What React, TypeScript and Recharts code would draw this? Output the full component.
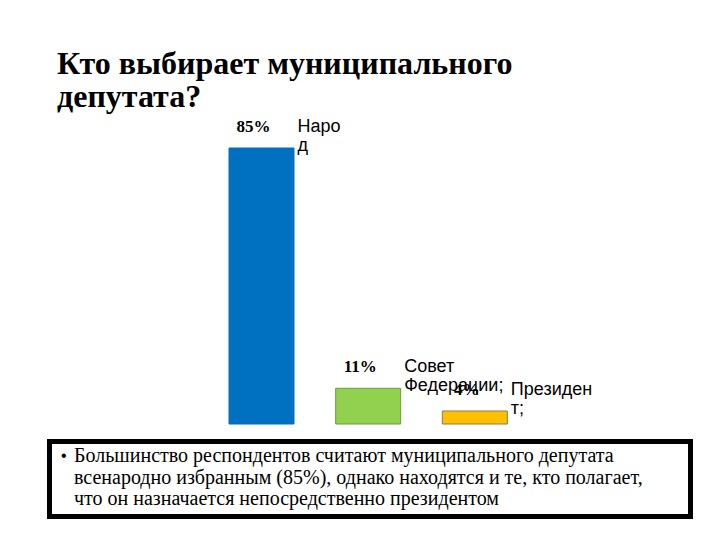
import React from "react";
import { BarChart, Bar, XAxis, YAxis, LabelList, Cell } from "recharts";

const categories = ["Народ", "Совет Федерации;", "Президент;"];
const values = [85, 11, 4];
const labelLines = [["Наро", "д"], ["Совет", "Федерации;"], ["Президен", "т;"]];
const fills = ["#0070C0", "#92D050", "#FFC000"];
const strokes = ["#0070C0", "#6E9C3C", "#8C7A50"];
const titleLines = ["Кто выбирает муниципального", "депутата?"];
const noteLines = [
  "Большинство респондентов считают муниципального депутата",
  "всенародно избранным (85%), однако находятся и те, кто полагает,",
  "что он назначается непосредственно президентом",
];

const SERIF = "Liberation Serif";
const SANS = "Liberation Sans";

const data = categories.map((c, i) => ({ name: c, value: values[i] }));

const renderLabel = (props: any) => {
  const { x, y, width, value, index } = props;
  const cx = x + width / 2;
  const lines = labelLines[index];
  return (
    <g>
      <text x={cx - 8} y={y - 16} textAnchor="middle" fontFamily={SERIF} fontWeight="bold" fontSize={17} fill="#000">
        {value}%
      </text>
      {lines.map((l: string, k: number) => (
        <text key={k} x={cx + 36} y={y - 16 + k * 19} fontFamily={SANS} fontSize={18} fill="#000">
          {l}
        </text>
      ))}
    </g>
  );
};

export default function App() {
  return (
    <div style={{ position: "absolute", left: 0, top: 0, width: 720, height: 540, background: "#fff", overflow: "hidden" }}>
      <div style={{ position: "absolute", left: 57, top: 47, fontFamily: SERIF, fontWeight: "bold", fontSize: 32, lineHeight: "33px", color: "#000", whiteSpace: "nowrap" }}>
        {titleLines.map((t, i) => (
          <div key={i}>{t}</div>
        ))}
      </div>
      <div style={{ position: "absolute", left: 0, top: 0 }}>
        <BarChart width={720} height={540} data={data} margin={{ top: 148, bottom: 116, left: 208, right: 192 }}>
          <XAxis dataKey="name" hide />
          <YAxis hide domain={[0, 85]} />
          <Bar dataKey="value" barSize={65} isAnimationActive={false}>
            {data.map((d, i) => (
              <Cell key={i} fill={fills[i]} stroke={strokes[i]} strokeWidth={1} />
            ))}
            <LabelList dataKey="value" content={renderLabel} />
          </Bar>
        </BarChart>
      </div>
      <div style={{ position: "absolute", left: 47, top: 439, width: 646, height: 80, boxSizing: "border-box", border: "5px solid #000", background: "#fff" }}>
        <div style={{ position: "absolute", left: 9, top: 1, fontFamily: SANS, fontSize: 16, lineHeight: "21.5px", color: "#000" }}>•</div>
        <div style={{ position: "absolute", left: 22, top: 1, fontFamily: SERIF, fontSize: 20, lineHeight: "21.5px", color: "#000", whiteSpace: "nowrap" }}>
          {noteLines.map((t, i) => (
            <div key={i}>{t}</div>
          ))}
        </div>
      </div>
    </div>
  );
}
